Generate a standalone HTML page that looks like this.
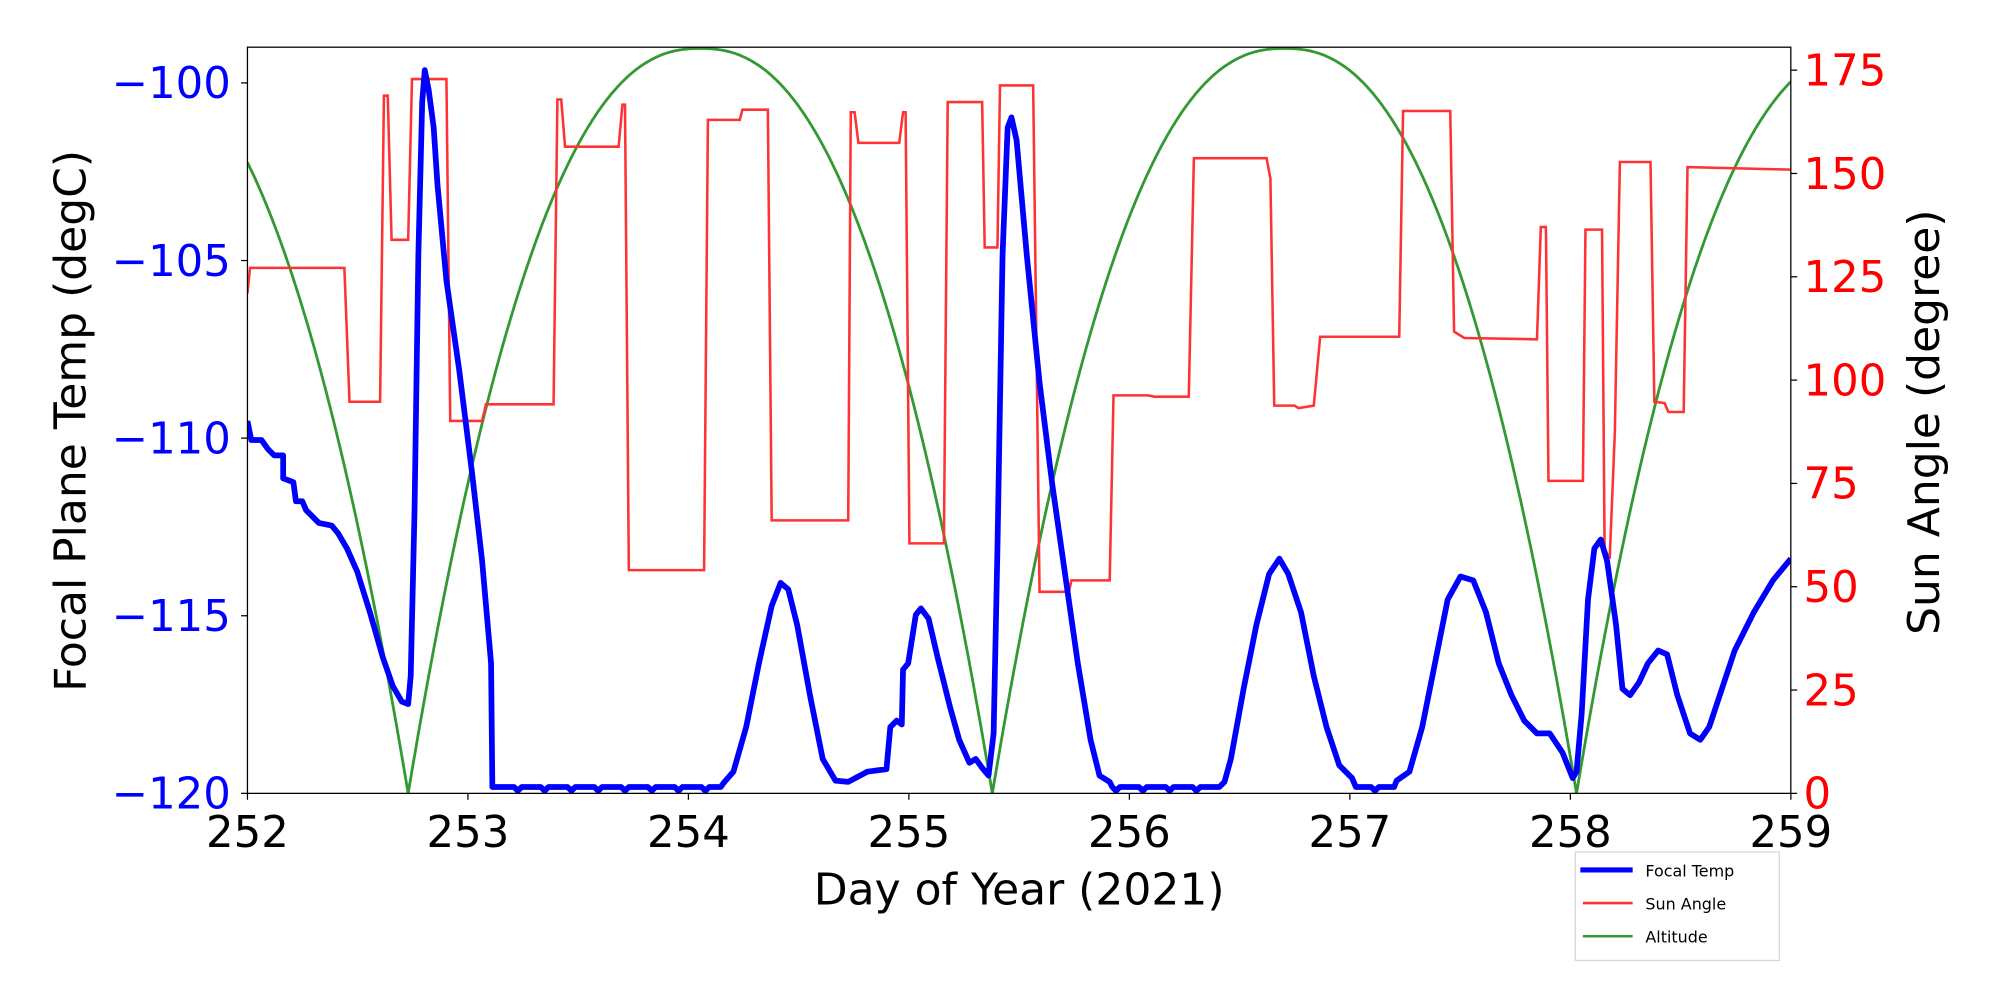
<!DOCTYPE html>
<html><head><meta charset="utf-8"><style>
html,body{margin:0;padding:0;background:#fff;}
svg{display:block;}
text{font-family:"DejaVu Sans","Liberation Sans",sans-serif;}
</style></head><body>
<svg id="s" width="2000" height="1000" viewBox="0 0 1568 784" xmlns="http://www.w3.org/2000/svg">
<rect width="1568" height="784" fill="#fff"/>
<g id="plot"></g>
<rect x="194" y="37" width="1210" height="585" fill="none" stroke="#000" stroke-width="1"/>
<g id="ticks" stroke="#000" stroke-width="1"></g>
<g id="labels" font-size="34"></g>
<text x="799" y="709" font-size="34.5" text-anchor="middle">Day of Year (2021)</text>
<text transform="translate(67,330) rotate(-90)" font-size="34.5" text-anchor="middle">Focal Plane Temp (degC)</text>
<text transform="translate(1520,331) rotate(-90)" font-size="34.5" text-anchor="middle">Sun Angle (degree)</text>
<rect x="1235" y="668" width="160" height="85" fill="#fff" stroke="#d6d6d6" stroke-width="1"/>
<line x1="1239" y1="682" x2="1280" y2="682" stroke="#0000ff" stroke-width="4"/>
<line x1="1241" y1="708" x2="1280" y2="708" stroke="#ff3333" stroke-width="2"/>
<line x1="1241" y1="734" x2="1280" y2="734" stroke="#339933" stroke-width="2"/>
<text x="1290" y="687" font-size="12.5">Focal Temp</text>
<text x="1290" y="713" font-size="12.5">Sun Angle</text>
<text x="1290" y="739" font-size="12.5">Altitude</text>
</svg>
<script>
var NS="http://www.w3.org/2000/svg";
function el(p,t,a,txt){var e=document.createElementNS(NS,t);for(var k in a)e.setAttribute(k,a[k]);if(txt!=null)e.textContent=txt;p.appendChild(e);return e;}
var plot=document.getElementById('plot'),tk=document.getElementById('ticks'),lb=document.getElementById('labels');
var clip=el(plot,'clipPath',{id:'c'});el(clip,'rect',{x:194,y:37,width:1210,height:585});
var g=el(plot,'g',{'clip-path':'url(#c)'});
var pts=[];
function alt(x){var zs=[-138,320,778,1236,1694];for(var i=0;i<zs.length-1;i++){if(x>=zs[i]&&x<=zs[i+1]){var m=(zs[i]+zs[i+1])/2,h=(zs[i+1]-zs[i])/2;var u=Math.abs(x-m)/h;return 622-584*(1-Math.pow(u,2.35));}}return 622;}
for(var x=194;x<=1405;x+=1)pts.push(x+','+alt(x).toFixed(1));
el(g,'polyline',{points:pts.join(' '),fill:'none',stroke:'#339933','stroke-width':2.2});
var sun=[[194,230],[196,210],[270,210],[274,315],[298,315],[301,75],[304,75],[307,188],[320,188],[323,62],[350,62],[353,330],[378,330],[381,317],[434,317],[437,78],[440,78],[443,115],[485,115],[488,82],[490,82],[493,447],[552,447],[555,94],[580,94],[582,86],[602,86],[605,408],[665,408],[667,88],[670,88],[673,112],[705,112],[708,88],[710,88],[713,426],[740,426],[743,80],[760,80],[770,80],[772,194],[782,194],[784,67],[810,67],[815,464],[838,464],[840,455],[870,455],[873,310],[900,310],[905,311],[932,311],[936,124],[993,124],[996,140],[999,318],[1015,318],[1018,320],[1030,318],[1035,264],[1097,264],[1100,87],[1137,87],[1140,260],[1148,265],[1205,266],[1208,178],[1212,178],[1214,377],[1241,377],[1243,180],[1256,180],[1258,430],[1262,438],[1266,340],[1270,127],[1294,127],[1297,315],[1305,316],[1308,323],[1320,323],[1323,131],[1404,133]];
el(g,'polyline',{points:sun.map(function(p){return p.join(',')}).join(' '),fill:'none',stroke:'#ff3333','stroke-width':2});
function flat(a,b,out){for(var x=a;x<b;x+=3){out.push([x,(x%9==0)?612:(x%7==0?620:617)]);}}
var ft=[[194,330],[197,345],[205,345],[210,352],[215,357],[222,357],[222,375],[230,378],[232,393],[237,393],[240,400],[245,405],[250,410],[260,412],[265,418],[272,430],[280,448],[290,480],[300,515],[308,538],[315,550],[320,552],[322,530],[325,400],[328,200],[331,80],[333,55],[336,70],[340,100],[343,145],[350,220],[360,290],[370,370],[378,440],[385,520],[386,617]];
flat(388,566,ft);
ft=ft.concat([[568,613],[575,605],[585,570],[595,520],[605,475],[612,457],[618,462],[625,490],[635,545],[645,595],[655,612],[665,613],[680,605],[695,603],[698,570],[703,565],[707,568],[708,525],[712,520],[718,482],[722,477],[728,485],[735,515],[745,555],[752,580],[760,598],[765,595],[770,602],[775,608],[779,575],[782,430],[786,200],[790,100],[793,92],[797,110],[805,200],[815,300],[825,380],[835,450],[845,520],[855,580],[862,608],[870,613]]);
flat(872,958,ft);
ft=ft.concat([[960,613],[965,595],[975,540],[985,490],[995,450],[1003,438],[1010,450],[1020,480],[1030,530],[1040,570],[1050,600],[1060,610]]);
flat(1063,1094,ft);
ft=ft.concat([[1095,612],[1105,605],[1115,570],[1125,520],[1135,470],[1145,452],[1155,455],[1165,480],[1175,520],[1185,545],[1195,565],[1205,575],[1215,575],[1225,590],[1233,610],[1236,605],[1240,560],[1245,470],[1250,430],[1255,423],[1260,440],[1267,490],[1272,540],[1278,545],[1285,535],[1292,520],[1300,510],[1307,513],[1315,545],[1325,575],[1333,580],[1340,570],[1350,540],[1360,510],[1375,480],[1390,455],[1404,438]]);
el(g,'polyline',{points:ft.map(function(p){return p.join(',')}).join(' '),fill:'none',stroke:'#0000ff','stroke-width':4.5,'stroke-linejoin':'round'});
for(var d=0;d<=7;d++){var x=194+d*172.86;el(tk,'line',{x1:x,y1:622,x2:x,y2:627});el(lb,'text',{x:x,y:664,'text-anchor':'middle'},String(252+d));}
for(var i=0;i<=4;i++){var v=-100-5*i,y=65+i*139.25;el(tk,'line',{x1:194,y1:y,x2:189,y2:y});el(lb,'text',{x:181,y:y+12,'text-anchor':'end',fill:'#0000ff'},'\u2212'+(-v));}
for(var i=0;i<=7;i++){var y=622-i*81;el(tk,'line',{x1:1404,y1:y,x2:1409,y2:y});el(lb,'text',{x:1414,y:y+12,fill:'#ff0000'},String(25*i));}
</script>
</body></html>
